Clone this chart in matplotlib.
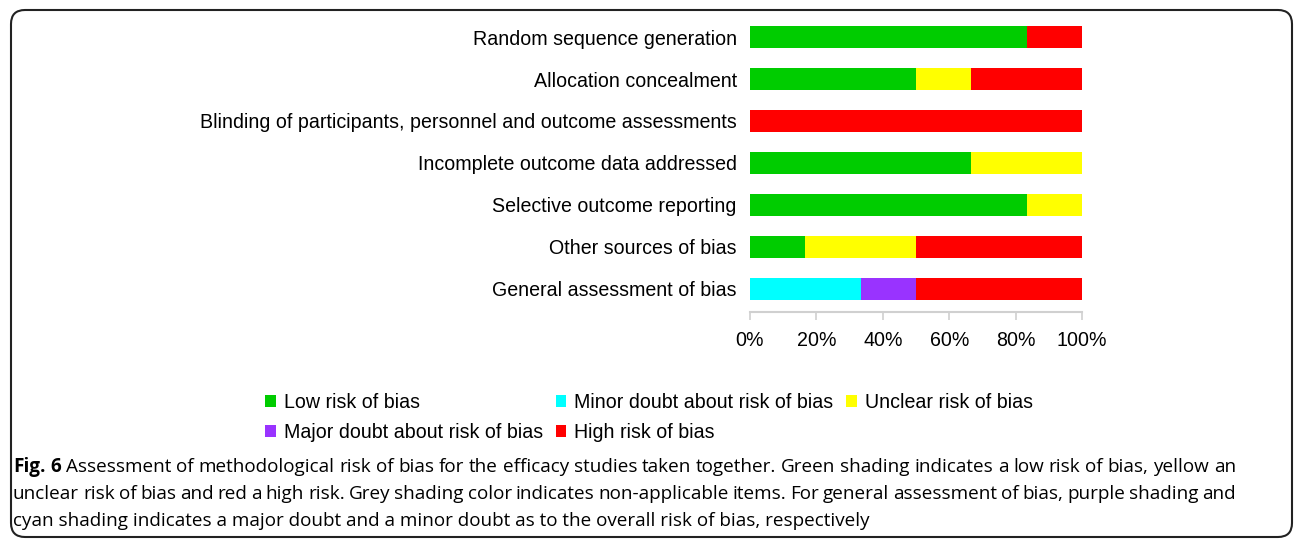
import matplotlib.pyplot as plt
from matplotlib.patches import FancyBboxPatch, Patch
from matplotlib.transforms import IdentityTransform

domains = ['Random sequence generation', 'Allocation concealment',
           'Blinding of participants, personnel and outcome assessments',
           'Incomplete outcome data addressed', 'Selective outcome reporting',
           'Other sources of bias', 'General assessment of bias']
# share of studies (out of 6) in each category
low = [5/6, 3/6, 0, 4/6, 5/6, 1/6, 0]
minor = [0, 0, 0, 0, 0, 0, 2/6]
major = [0, 0, 0, 0, 0, 0, 1/6]
unclear = [0, 1/6, 0, 2/6, 1/6, 2/6, 0]
high = [1/6, 2/6, 1, 0, 0, 3/6, 3/6]

series = [('Low risk of bias', low, '#00CC00'),
          ('Minor doubt about risk of bias', minor, '#00FFFF'),
          ('Major doubt about risk of bias', major, '#9933FF'),
          ('Unclear risk of bias', unclear, '#FFFF00'),
          ('High risk of bias', high, '#FF0000')]

plt.rcParams['font.family'] = ['Liberation Sans', 'DejaVu Sans']

W, H = 1296, 539
fig = plt.figure(figsize=(W / 100, H / 100), dpi=100)
ax = fig.add_axes([0.5787, 0.4212, 0.2562, 0.5529])

y = list(range(len(domains)))
left = [0] * len(domains)
for name, vals, col in series:
    ax.barh(y, vals, left=left, height=0.52, color=col, label=name)
    left = [a + b for a, b in zip(left, vals)]

ax.set_ylim(6.55, -0.55)
ax.set_xlim(0, 1)
ax.set_yticks(y)
ax.set_yticklabels(domains, fontsize=14.1)
ax.set_xticks([0, 0.2, 0.4, 0.6, 0.8, 1.0])
ax.set_xticklabels(['0%', '20%', '40%', '60%', '80%', '100%'], fontsize=14.1)
for s in ['top', 'right', 'left']:
    ax.spines[s].set_visible(False)
ax.spines['bottom'].set_color('#d0d0d0')
ax.spines['bottom'].set_linewidth(1.5)
ax.tick_params(axis='y', length=0, pad=9.5)
ax.tick_params(axis='x', direction='out', length=6, color='#d0d0d0', width=1.2, pad=8)

# legend, order chosen so rows read Low/Minor/Unclear then Major/High
lab = {n: c for n, v, c in series}
order = ['Low risk of bias', 'Major doubt about risk of bias',
         'Minor doubt about risk of bias', 'High risk of bias', 'Unclear risk of bias']
handles = [Patch(facecolor=lab[n], edgecolor='none') for n in order]
fig.legend(handles, order, ncol=3, loc='upper left', bbox_to_anchor=(0.197, 0.289),
           frameon=False, fontsize=14.1, handlelength=0.55, handleheight=0.55,
           handletextpad=0.4, columnspacing=0.65, labelspacing=0.55, borderpad=0)

# rounded frame
fig.add_artist(FancyBboxPatch((11, 2), 1281, 527, boxstyle='round,pad=0,rounding_size=14',
                              transform=IdentityTransform(), facecolor='none',
                              edgecolor='#222222', linewidth=1.5))

# caption, justified like the journal layout
cap = ['Assessment of methodological risk of bias for the efficacy studies taken together. Green shading indicates a low risk of bias, yellow an',
       'unclear risk of bias and red a high risk. Grey shading color indicates non-applicable items. For general assessment of bias, purple shading and',
       'cyan shading indicates a major doubt and a minor doubt as to the overall risk of bias, respectively']
cfont = ['Open Sans', 'DejaVu Sans']
csize = 13.6
r = fig.canvas.get_renderer()
xl, xr = 13, 1236


def justify(words, ypx):
    txts = []
    for wd, bold in words:
        txts.append(fig.text(0, 1 - ypx / H, wd, fontsize=csize, family=cfont,
                             fontweight='bold' if bold else 'normal', va='center'))
    widths = [t.get_window_extent(r).width for t in txts]
    gap = (xr - xl - sum(widths)) / (len(txts) - 1)
    x = xl
    for t, w in zip(txts, widths):
        t.set_x(x / W)
        x += w + gap


justify([('Fig.', True), ('6', True)] + [(w, False) for w in cap[0].split()], 467)
justify([(w, False) for w in cap[1].split()], 494)
fig.text(xl / W, 1 - 521 / H, cap[2], fontsize=csize, family=cfont, va='center')

fig.savefig('out.png', dpi=100)
